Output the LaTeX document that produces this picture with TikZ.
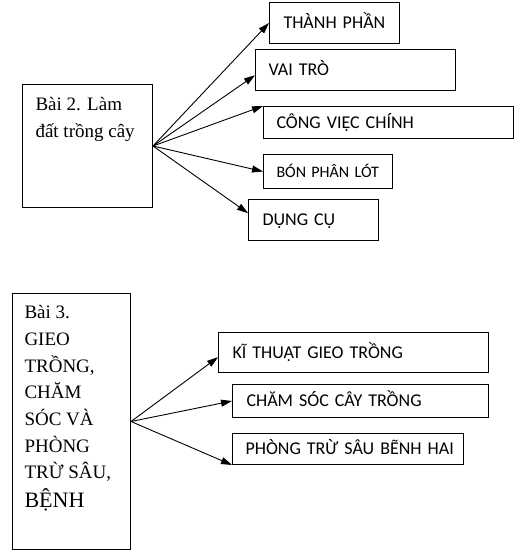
\documentclass[tikz,border=0pt]{standalone}
\usepackage{fontspec}
\setmainfont{Liberation Serif}
\newfontfamily\lblfont{Carlito}
\usetikzlibrary{positioning,arrows.meta}
\tikzset{
  % --- nodes
  lbl/.style   = {draw, anchor=north west, align=left, line width=1pt, inner ysep=0pt,
                  font=\lblfont\fontsize{18}{22}\selectfont, text height=11.6pt, text depth=0pt},
  topic/.style = {draw, anchor=north west, line width=1pt,
                  font=\fontsize{19}{27}\selectfont},
  % --- edges
  e/.style     = {-{Triangle[length=11pt,width=7pt]}, line width=0.9pt},
}
\begin{document}
\begin{tikzpicture}[x=1pt,y=-1pt]
  \useasboundingbox (0,0) rectangle (529,557);

  % Bai 2
  \node[topic, inner xsep=13pt, inner ysep=13pt] (b2) at (22,84)
    {\parbox[t][97pt][t]{104pt}{Bài 2. Làm\\ đất trồng cây}};
  \node[lbl, text width=102pt, inner xsep=14pt, minimum height=41pt] (tp) at (269,2) {THÀNH PHẦN};
  \node[lbl, text width=174pt, inner xsep=13pt, minimum height=41pt] (vt) at (255,49) {VAI TRÒ};
  \node[lbl, text width=224pt, inner xsep=13pt, minimum height=32pt] (cv) at (263,106) {CÔNG VIỆC CHÍNH};
  \node[lbl, text width=103pt, inner xsep=13pt, minimum height=34pt,
        font=\lblfont\fontsize{16}{20}\selectfont] (bp) at (263,154) {BÓN PHÂN LÓT};
  \node[lbl, text width=102pt, inner xsep=14pt, minimum height=41pt] (dc) at (248,199) {DỤNG CỤ};

  \draw[e] (b2.east) -- (tp.west); \draw[e] (b2.east) -- (vt.183);
  \draw[e] (b2.east) -- (cv.north west); \draw[e] (b2.east) -- (bp.west);
  \draw[e] (b2.east) -- (dc.174);

  % Bai 3
  \node[topic, inner xsep=12pt, inner ysep=12pt] (b3) at (12,293)
    {\parbox[t][232pt][t]{94pt}{\fontsize{19}{26.7}\selectfont Bài 3.\\ GIEO\\ TRỒNG,\\ CHĂM\\
     SÓC VÀ\\ PHÒNG\\ TRỪ SÂU,\\[2pt] {\fontsize{22}{26.7}\selectfont BỆNH}}};
  \node[lbl, text width=242pt, inner xsep=14pt, minimum height=40pt] (kt) at (218,332) {KĨ THUẬT GIEO TRỒNG};
  \node[lbl, text width=228pt, inner xsep=14pt, minimum height=33pt] (cs) at (232,384) {CHĂM SÓC CÂY TRỒNG};
  \node[lbl, text width=215pt, inner xsep=8pt, minimum height=31pt] (pt) at (232,433)
    {\hspace*{5pt}PHÒNG TRỪ SÂU BẼNH HAI};

  \draw[e] (b3.east) -- (kt.182.5); \draw[e] (b3.east) -- (cs.west);
  \draw[e] (b3.east) -- (pt.south west);
\end{tikzpicture}
\end{document}
